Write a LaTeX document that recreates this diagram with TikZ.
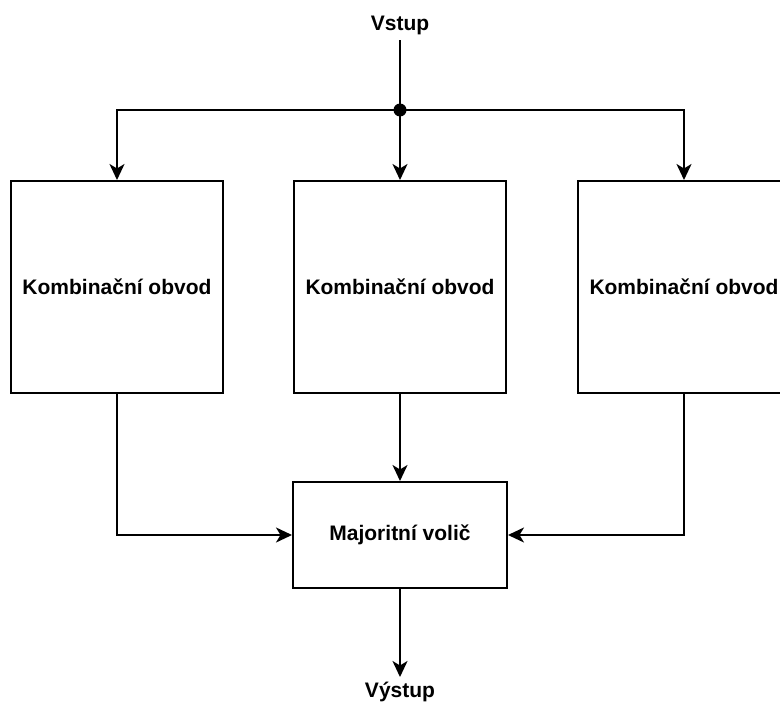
\documentclass[tikz,border=0pt]{standalone}
\usepackage{fontspec}
\setmainfont{Liberation Sans}
\usetikzlibrary{arrows.meta}
\begin{document}
\begin{tikzpicture}[x=1pt,y=-1pt,
  line width=2pt,
  txt/.style={font=\bfseries\fontsize{21}{25}\selectfont},
  block/.style={draw,line width=2pt,rectangle,minimum width=212pt,inner sep=0pt,txt},
  link/.style={-{Stealth[length=16pt,width=15pt,inset=4.5pt]}}]
\useasboundingbox (0,0) rectangle (780,704);
% input and split point
\node[txt] (vin) at (400,25) {Vstup};
\coordinate (vintop) at (400,40);
\fill (400,110) circle (6.5pt);
\coordinate (split) at (400,110);
% three redundant blocks
\node[block,minimum height=212pt] (k1) at (117,287) {Kombinační obvod};
\node[block,minimum height=212pt] (k2) at (400,287) {Kombinační obvod};
\node[block,minimum height=212pt] (k3) at (684,287) {Kombinační obvod};
% voter
\node[block,minimum width=214pt,minimum height=106pt] (mv) at (400,535) {Majoritní volič};
\coordinate (outend) at (400,677);
\node[txt] (vout) at (400,692) {Výstup};
% connections
\draw (vintop) -- (split);
\draw[link] (split) -| (k1.north);
\draw[link] (split) -- (k2.north);
\draw[link] (split) -| (k3.north);
\draw[link] (k1.south) |- (mv.west);
\draw[link] (k2.south) -- (mv.north);
\draw[link] (k3.south) |- (mv.east);
\draw[link] (mv.south) -- (outend);
\end{tikzpicture}
\end{document}
